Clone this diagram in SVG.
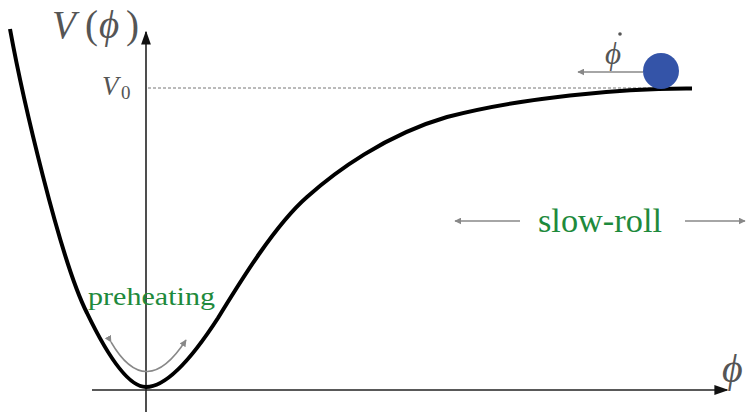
<svg xmlns="http://www.w3.org/2000/svg" width="746" height="416" viewBox="0 0 746 416">
<defs>
<style>
.axis{stroke:#222;stroke-width:1.6;fill:none}
.gray{stroke:#888;stroke-width:1.5;fill:none}
.lbl{font-family:"Liberation Serif",serif;fill:#555}
.grn{font-family:"Liberation Serif",serif;fill:#1e8a3c}
</style>
<marker id="ah" viewBox="0 0 10 10" refX="9" refY="5" markerWidth="7" markerHeight="7" markerUnits="userSpaceOnUse" orient="auto"><path d="M0,0 L10,5 L0,10 z" fill="#888"/></marker>
<marker id="axh" viewBox="0 0 10 10" refX="9" refY="5" markerWidth="14" markerHeight="14" markerUnits="userSpaceOnUse" orient="auto"><path d="M0,1.5 L10,5 L0,8.5 z" fill="#111"/></marker>
</defs>
<rect width="746" height="416" fill="#fff"/>
<g id="connectors">
<line class="axis" x1="92" y1="390" x2="727" y2="390" marker-end="url(#axh)"/>
<line class="axis" x1="146" y1="412" x2="146" y2="32" marker-end="url(#axh)"/>
<line x1="148" y1="88" x2="690" y2="88" stroke="#777" stroke-width="1" stroke-dasharray="3,2"/>
<line class="gray" x1="643" y1="72" x2="578" y2="72" marker-end="url(#ah)"/>
<line class="gray" x1="520" y1="221" x2="455" y2="221" marker-end="url(#ah)"/>
<line class="gray" x1="685" y1="221" x2="745" y2="221" marker-end="url(#ah)"/>
<path class="gray" d="M111,342 Q146,402 186,340" marker-start="url(#ah)" marker-end="url(#ah)"/>
</g>
<g id="potential">
<path d="M10,29 C22,95 60,260 87,313 C100,340 125,387 146,387 C168,387 196,352 218,318 C240,282 275,225 307,197 C335,172 385,135 447,117 C520,98 620,88 692,88.5" fill="none" stroke="#000" stroke-width="4"/>
</g>
<g id="ball"><circle cx="661" cy="71" r="18" fill="#3454a8"/></g>
<g id="labels">
<text class="lbl" x="52" y="38" font-size="39" font-style="italic">V</text>
<text class="lbl" x="85" y="38" font-size="39">(</text>
<text class="lbl" x="99" y="38" font-size="39" font-style="italic">ϕ</text>
<text class="lbl" x="126" y="38" font-size="39">)</text>
<text class="lbl" x="102" y="95" font-size="27" font-style="italic">V</text>
<text class="lbl" x="121" y="99" font-size="19">0</text>
<text class="lbl" x="605" y="64" font-size="31" font-style="italic">ϕ</text>
<circle cx="620" cy="34" r="1.8" fill="#555"/>
<text class="lbl" x="722" y="382" font-size="40" font-style="italic">ϕ</text>
<text class="grn" x="538" y="232" font-size="33" textLength="124" lengthAdjust="spacingAndGlyphs">slow-roll</text>
<text class="grn" x="88" y="305" font-size="26" textLength="127" lengthAdjust="spacingAndGlyphs">preheating</text>
</g>
</svg>
